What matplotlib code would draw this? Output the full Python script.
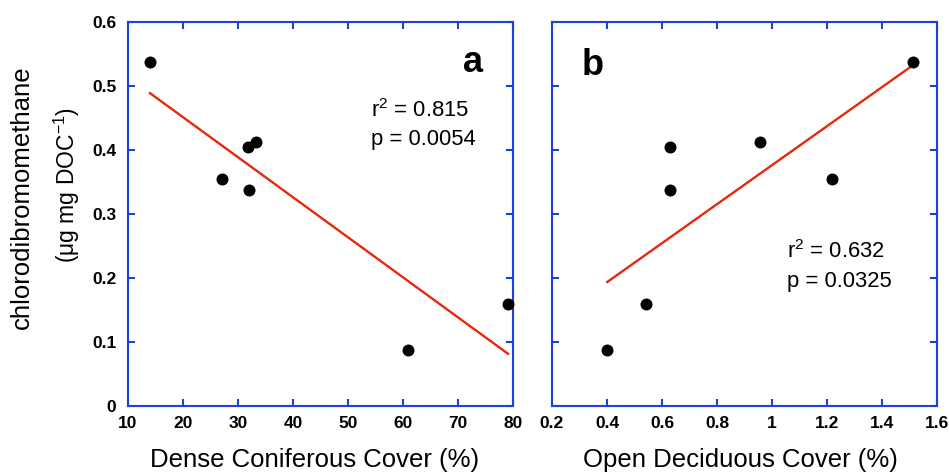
import numpy as np
import matplotlib
matplotlib.use("Agg")
import matplotlib.pyplot as plt
from matplotlib.ticker import FuncFormatter

plt.rcParams['font.family'] = ['Liberation Sans', 'DejaVu Sans']
plt.rcParams['mathtext.fontset'] = 'custom'
plt.rcParams['mathtext.rm'] = 'Liberation Sans'
plt.rcParams['mathtext.it'] = 'Liberation Sans:italic'

# data
chloro = [0.5375, 0.355, 0.405, 0.4125, 0.3375, 0.0875, 0.16]
coniferous = [14.0, 27.1, 31.8, 33.2, 32.0, 60.9, 79.1]
deciduous = [1.512, 1.218, 0.629, 0.956, 0.629, 0.401, 0.542]

stats_a = ["r$^2$ = 0.815", "p = 0.0054"]
stats_b = ["r$^2$ = 0.632", "p = 0.0325"]

xticks_a = [10, 20, 30, 40, 50, 60, 70, 80]
xticks_b = [0.2, 0.4, 0.6, 0.8, 1.0, 1.2, 1.4, 1.6]
yticks = [0, 0.1, 0.2, 0.3, 0.4, 0.5, 0.6]

blue = '#1f3fe0'
red = '#e8280e'

fig = plt.figure(figsize=(9.49, 4.72), dpi=100)
W, H = 949, 472
axa = fig.add_axes([128 / W, 1 - 406 / H, (513 - 128) / W, (406 - 22) / H])
axb = fig.add_axes([552 / W, 1 - 406 / H, (937 - 552) / W, (406 - 22) / H])

fmt = FuncFormatter(lambda v, p: f"{v:g}")

for ax, x, xt, xl in [(axa, coniferous, xticks_a, (10, 80)),
                      (axb, deciduous, xticks_b, (0.2, 1.6))]:
    x = np.array(x)
    y = np.array(chloro)
    ax.scatter(x, y, s=58, color='black', zorder=3, clip_on=False)
    m, b = np.polyfit(x, y, 1)
    xs = np.array([x.min(), x.max()])
    ax.plot(xs, m * xs + b, color=red, lw=1.7, zorder=2)
    ax.set_xlim(*xl)
    ax.set_ylim(0, 0.6)
    ax.set_xticks(xt)
    ax.set_yticks(yticks)
    ax.xaxis.set_major_formatter(fmt)
    ax.yaxis.set_major_formatter(fmt)
    for s in ax.spines.values():
        s.set_color(blue)
        s.set_linewidth(1.5)
    ax.tick_params(direction='in', length=5, width=1.5, color=blue,
                   top=True, right=True, labelsize=12.5)
    ax.tick_params(axis='x', pad=7)
    ax.tick_params(axis='y', pad=8.5)
    for lab in ax.get_xticklabels() + ax.get_yticklabels():
        lab.set_fontweight('bold')

axb.tick_params(labelleft=False)

fs_lab = 18.5
fig.text(315 / W, 1 - 467 / H, "Dense Coniferous Cover (%)", fontsize=fs_lab,
         ha='center', va='baseline')
fig.text(740 / W, 1 - 467 / H, "Open Deciduous Cover (%)", fontsize=fs_lab,
         ha='center', va='baseline')

fig.text(22 / W, 1 - 197 / H, "chlorodibromomethane", rotation=90,
         ha='center', va='center', fontsize=fs_lab)
fig.text(67 / W, 1 - 185 / H, "(\u03bcg mg DOC$^{-1}$)", rotation=90,
         ha='center', va='center', fontsize=16.5)

fig.text(473 / W, 1 - 72 / H, "a", fontsize=26, fontweight='bold', ha='center', va='baseline')
fig.text(593 / W, 1 - 75 / H, "b", fontsize=26, fontweight='bold', ha='center', va='baseline')

fs_st = 15.8
fig.text(371 / W, 1 - 117 / H, stats_a[0], fontsize=fs_st, ha='left', va='baseline')
fig.text(371 / W, 1 - 145 / H, stats_a[1], fontsize=fs_st, ha='left', va='baseline')
fig.text(787 / W, 1 - 258 / H, stats_b[0], fontsize=fs_st, ha='left', va='baseline')
fig.text(787 / W, 1 - 287 / H, stats_b[1], fontsize=fs_st, ha='left', va='baseline')

fig.savefig("out.png", dpi=100)
